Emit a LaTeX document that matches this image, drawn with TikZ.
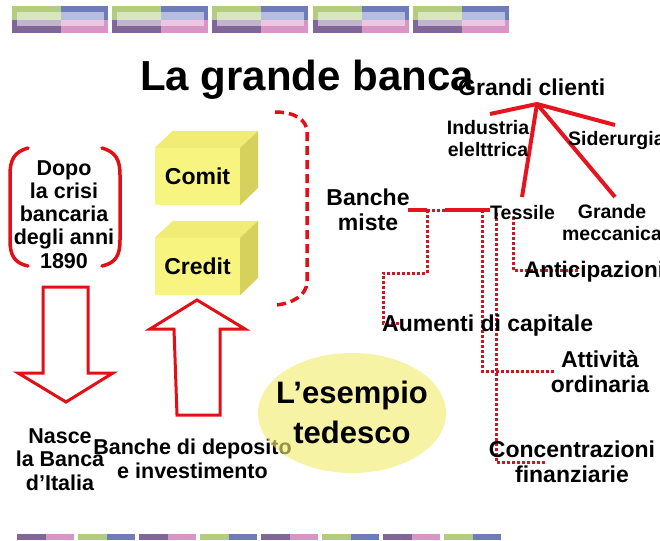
\documentclass[tikz,border=0pt]{standalone}
\usepackage{fontspec}
\setmainfont{Liberation Sans}
\usetikzlibrary{shapes.geometric}
\definecolor{redS}{RGB}{230,20,30}
\definecolor{redD}{RGB}{200,25,35}
\definecolor{redB}{RGB}{225,16,22}
\definecolor{decG}{RGB}{180,204,128}
\definecolor{decB}{RGB}{110,125,184}
\definecolor{decP}{RGB}{128,102,153}
\definecolor{decK}{RGB}{216,149,197}
\definecolor{decLG}{RGB}{216,230,189}
\definecolor{decLB}{RGB}{183,189,224}
\definecolor{decLP}{RGB}{192,181,204}
\definecolor{decLK}{RGB}{236,198,227}
\definecolor{boxF}{RGB}{248,244,128}
\definecolor{boxT}{RGB}{240,236,118}
\definecolor{boxS}{RGB}{213,209,92}
\definecolor{ellY}{RGB}{242,237,110}
\begin{document}
\begin{tikzpicture}[x=1pt,y=-1pt,
  lbl/.style={inner sep=0pt, align=center},
  fa/.style={font=\bfseries\fontsize{19.5}{22}\selectfont},
  fb/.style={font=\bfseries\fontsize{21.5}{23.2}\selectfont},
  fc/.style={font=\bfseries\fontsize{23}{25}\selectfont},
  solidred/.style={draw=redS, line width=4pt},
  dotred/.style={draw=redD, line width=3pt, dash pattern=on 3pt off 2pt},
  dashred/.style={draw=redB, line width=3.5pt, dash pattern=on 9pt off 5pt},
  bracket/.style={draw=redB, line width=3.5pt, line cap=round},
  bigarrow/.style={draw=redB, line width=3pt, line join=miter, fill=white},
  boxfront/.style={fill=boxF, minimum width=85pt, minimum height=57pt, inner sep=0pt, font=\bfseries\fontsize{23}{25}\selectfont},
]
\useasboundingbox (0,0) rectangle (660,540);
\fill[white] (0,0) rectangle (660,540);

% top decoration
\foreach \x in {12,112,212,313,413} {
  \fill[decG] (\x,6) rectangle ++(49,14);
  \fill[decB] (\x+49,6) rectangle ++(47,14);
  \fill[decP] (\x,20) rectangle ++(49,13);
  \fill[decK] (\x+49,20) rectangle ++(47,13);
  \fill[decLG] (\x+5,12) rectangle ++(44,8);
  \fill[decLB] (\x+49,12) rectangle ++(43,8);
  \fill[decLP] (\x+5,20) rectangle ++(44,6);
  \fill[decLK] (\x+49,20) rectangle ++(43,6);
}
% bottom decoration
\foreach \x in {17,139,261,383} {
  \fill[decP] (\x,534) rectangle ++(28.5,6);
  \fill[decK] (\x+28.5,534) rectangle ++(28.5,6);
}
\foreach \x in {78,200,322,444} {
  \fill[decG] (\x,534) rectangle ++(28.5,6);
  \fill[decB] (\x+28.5,534) rectangle ++(28.5,6);
}

% title
\node[lbl, anchor=base west, font=\bfseries\fontsize{42}{46}\selectfont] (title) at (140,91) {La grande banca};
\node[lbl, anchor=base west, font=\bfseries\fontsize{23}{25}\selectfont] (grandi) at (458,96) {Grandi clienti};

% left brackets
\draw[bracket] (28,148) .. controls (14,152) and (10,160) .. (10,175) -- (10,240) .. controls (10,255) and (14,263) .. (28,266);
\draw[bracket] (102,148) .. controls (116,152) and (120,160) .. (120,175) -- (120,240) .. controls (120,255) and (116,263) .. (102,266);
\node[lbl, fb, anchor=base] (dopo) at (64,268) {Dopo\\la crisi\\bancaria\\degli anni\\1890};

% boxes
\node[boxfront] (comit) at (197.5,176.5) {Comit};
\fill[boxT] (comit.north west) -- ++(18,-17) -- ++(85,0) -- (comit.north east) -- cycle;
\fill[boxS] (comit.north east) -- ++(18,-17) -- ++(0,57) -- (comit.south east) -- cycle;
\node[boxfront] (credit) at (197.5,266.5) {Credit};
\fill[boxT] (credit.north west) -- ++(18,-17) -- ++(85,0) -- (credit.north east) -- cycle;
\fill[boxS] (credit.north east) -- ++(18,-17) -- ++(0,57) -- (credit.south east) -- cycle;

% dashed brace
\draw[dashred] (275,112) .. controls (295,112) and (307,120) .. (307,132) -- (307,282) .. controls (307,295) and (292,304) .. (275,305);

% big arrows
\draw[bigarrow] (43,287) -- (88,287) -- (88,373) -- (113,373) -- (66,402) -- (18,373) -- (43,373) -- cycle;
\draw[bigarrow] (197,300) -- (245,329) -- (220,329) -- (220,415) -- (177,415) -- (174,329) -- (150,329) -- cycle;

% Banche miste
\node[lbl, fc, anchor=base] (bm) at (368,230) {Banche\\miste};

% connectors
\coordinate (hub) at (537,104);
\coordinate (ind) at (490,114);
\coordinate (sid) at (615,125);
\coordinate (tes) at (522,197);
\coordinate (gm) at (615,197);
\draw[solidred] (ind) -- (hub) -- (sid);
\draw[solidred] (hub) -- (tes);
\draw[solidred] (hub) -- (gm);

\coordinate (m0) at (408,210);
\coordinate (m1) at (427,210);
\coordinate (m2) at (445,210);
\coordinate (m3) at (490,210);
\draw[solidred] (m0) -- (m1);
\draw[dotred] (m1) -- (m2);
\draw[solidred] (m2) -- (m3);

\coordinate (aum) at (402,323);
\coordinate (att) at (555,371);
\coordinate (con) at (546,462);
\coordinate (ant) at (580,270);
\draw[dotred] (m1) -- (427,273) -- (383,273) -- (383,323) -- (aum);
\draw[dotred] (482,210) -- (482,371) -- (att);
\draw[dotred] (496,213) -- (496,462) -- (con);
\draw[dotred] (513,217) -- (513,270) -- (ant);

% right labels
\node[lbl, fa, anchor=base] (industria) at (488,157) {Industria\\elelttrica};
\node[lbl, fa, anchor=base west] (siderurgia) at (568,146) {Siderurgia};
\node[lbl, fa, anchor=base west] (tessile) at (490,219) {Tessile};
\node[lbl, fa, anchor=base] (grande) at (612,240) {Grande\\meccanica};
\node[lbl, anchor=base west, font=\bfseries\fontsize{22.5}{25}\selectfont] (anticip) at (524,277) {Anticipazioni};
\node[lbl, fc, anchor=base west] (aumenti) at (382,331) {Aumenti di capitale};
\node[lbl, fc, anchor=base] (attivita) at (600,392) {Attività\\ordinaria};
\node[lbl, fc, anchor=base] (concentr) at (572,482) {Concentrazioni\\finanziarie};

% bottom left labels
\node[lbl, fb, anchor=base] (nasce) at (60,490) {Nasce\\la Banca\\d’Italia};
\node[lbl, fb, anchor=base] (deposito) at (192.5,478) {Banche di deposito\\e investimento};

% ellipse
\node[ellipse, fill=ellY, fill opacity=0.62, minimum width=188pt, minimum height=120pt, inner sep=0pt] (ell) at (352,413) {};
\node[lbl, anchor=base, font=\bfseries\fontsize{31}{40}\selectfont] (esempio) at (ell.center |- 0,443) {L’esempio\\tedesco};
\end{tikzpicture}
\end{document}
